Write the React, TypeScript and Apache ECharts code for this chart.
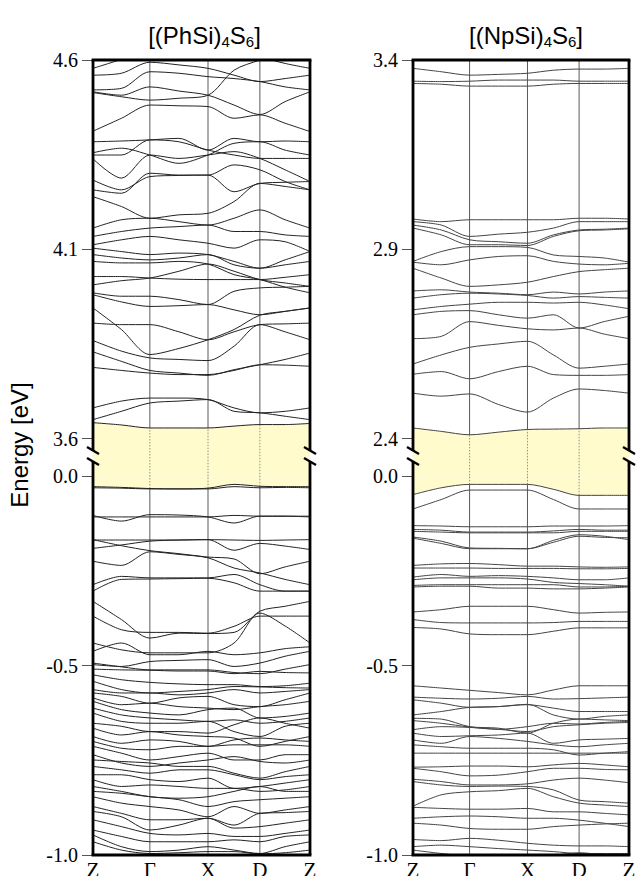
import React, { useEffect, useRef } from "react";
import * as echarts from "echarts";

// k-path (fractional distance along Z-Γ-X-D-Z)
const kLabels = ["Z", "Γ", "X", "D", "Z"];
const kTicks = [0, 0.262, 0.53, 0.769, 1];
const kPath = [0, 0.131, 0.262, 0.396, 0.53, 0.65, 0.769, 0.885, 1];

// y tick labels (eV)
const bottomTicks = [-1.0, -0.5, 0.0];
const leftTopTicks = [3.6, 4.1, 4.6];
const rightTopTicks = [2.4, 2.9, 3.4];

const titleNames = ["(PhSi)", "(NpSi)"];

// ---------- [(PhSi)4S6] ----------
const leftCBM = [3.642, 3.636, 3.628, 3.628, 3.628, 3.633, 3.637, 3.637, 3.640];
const leftVBM = [-0.027, -0.029, -0.032, -0.033, -0.031, -0.021, -0.026, -0.027, -0.027];

const leftConduction = [
  [4.578, 4.602, 4.631, 4.639, 4.639, 4.635, 4.609, 4.591, 4.578],
  [4.560, 4.565, 4.594, 4.587, 4.578, 4.560, 4.543, 4.551, 4.560],
  [4.521, 4.525, 4.569, 4.565, 4.556, 4.551, 4.543, 4.529, 4.521],
  [4.516, 4.507, 4.529, 4.518, 4.507, 4.481, 4.456, 4.490, 4.516],
  [4.514, 4.503, 4.494, 4.499, 4.507, 4.573, 4.600, 4.622, 4.631],
  [4.412, 4.446, 4.481, 4.479, 4.477, 4.446, 4.455, 4.433, 4.411],
  [4.384, 4.386, 4.389, 4.393, 4.362, 4.393, 4.384, 4.386, 4.384],
  [4.355, 4.367, 4.349, 4.327, 4.349, 4.380, 4.384, 4.362, 4.349],
  [4.349, 4.349, 4.389, 4.384, 4.362, 4.349, 4.340, 4.340, 4.340],
  [4.339, 4.288, 4.349, 4.340, 4.349, 4.358, 4.340, 4.310, 4.279],
  [4.283, 4.257, 4.292, 4.295, 4.296, 4.252, 4.274, 4.277, 4.279],
  [4.257, 4.248, 4.301, 4.296, 4.296, 4.323, 4.310, 4.279, 4.257],
  [4.239, 4.213, 4.182, 4.191, 4.195, 4.226, 4.274, 4.266, 4.257],
  [4.156, 4.178, 4.182, 4.173, 4.164, 4.182, 4.204, 4.178, 4.156],
  [4.134, 4.147, 4.156, 4.160, 4.164, 4.147, 4.147, 4.138, 4.134],
  [4.112, 4.125, 4.134, 4.125, 4.116, 4.103, 4.125, 4.120, 4.094],
  [4.103, 4.094, 4.086, 4.090, 4.086, 4.068, 4.050, 4.072, 4.094],
  [4.086, 4.077, 4.072, 4.077, 4.086, 4.059, 4.050, 4.059, 4.068],
  [4.068, 4.064, 4.064, 4.068, 4.061, 4.033, 4.020, 4.000, 3.985],
  [4.028, 4.028, 4.024, 4.021, 4.020, 4.020, 4.020, 4.026, 4.033],
  [4.006, 4.017, 4.024, 4.042, 4.061, 4.042, 4.020, 4.011, 4.002],
  [3.985, 3.976, 3.976, 3.967, 3.954, 3.989, 3.998, 4.000, 4.002],
  [3.980, 3.961, 3.949, 3.951, 3.954, 3.940, 3.927, 3.936, 3.945],
  [3.905, 3.901, 3.901, 3.882, 3.861, 3.882, 3.901, 3.903, 3.905],
  [3.945, 3.888, 3.822, 3.838, 3.861, 3.888, 3.926, 3.936, 3.945],
  [3.859, 3.831, 3.813, 3.809, 3.806, 3.844, 3.901, 3.882, 3.861],
  [3.829, 3.804, 3.780, 3.773, 3.767, 3.782, 3.795, 3.809, 3.826],
  [3.788, 3.780, 3.773, 3.769, 3.769, 3.780, 3.795, 3.794, 3.791],
  [3.681, 3.699, 3.707, 3.707, 3.703, 3.681, 3.668, 3.672, 3.681],
  [3.650, 3.672, 3.694, 3.699, 3.703, 3.672, 3.668, 3.659, 3.650],
];

const leftValence = [
  [-0.030, -0.031, -0.033, -0.033, -0.033, -0.027, -0.030, -0.029, -0.030],
  [-0.103, -0.118, -0.101, -0.102, -0.107, -0.123, -0.105, -0.105, -0.105],
  [-0.107, -0.107, -0.107, -0.107, -0.107, -0.103, -0.105, -0.105, -0.107],
  [-0.167, -0.183, -0.196, -0.204, -0.213, -0.218, -0.257, -0.239, -0.224],
  [-0.190, -0.181, -0.171, -0.168, -0.167, -0.195, -0.177, -0.184, -0.193],
  [-0.168, -0.168, -0.168, -0.168, -0.167, -0.168, -0.169, -0.168, -0.167],
  [-0.224, -0.235, -0.199, -0.206, -0.215, -0.242, -0.255, -0.272, -0.286],
  [-0.286, -0.264, -0.268, -0.268, -0.268, -0.259, -0.286, -0.303, -0.303],
  [-0.303, -0.272, -0.271, -0.270, -0.269, -0.281, -0.303, -0.303, -0.303],
  [-0.330, -0.378, -0.427, -0.414, -0.415, -0.412, -0.356, -0.343, -0.330],
  [-0.369, -0.405, -0.412, -0.412, -0.414, -0.396, -0.369, -0.369, -0.369],
  [-0.440, -0.458, -0.466, -0.466, -0.466, -0.440, -0.361, -0.395, -0.440],
  [-0.462, -0.440, -0.471, -0.471, -0.462, -0.471, -0.466, -0.455, -0.450],
  [-0.497, -0.502, -0.489, -0.486, -0.484, -0.502, -0.493, -0.475, -0.462],
  [-0.493, -0.503, -0.511, -0.511, -0.511, -0.518, -0.521, -0.509, -0.497],
  [-0.509, -0.511, -0.512, -0.514, -0.514, -0.521, -0.515, -0.518, -0.519],
  [-0.524, -0.537, -0.544, -0.548, -0.550, -0.550, -0.555, -0.553, -0.546],
  [-0.541, -0.563, -0.572, -0.568, -0.563, -0.555, -0.556, -0.558, -0.559],
  [-0.563, -0.572, -0.572, -0.577, -0.572, -0.563, -0.572, -0.568, -0.563],
  [-0.572, -0.581, -0.599, -0.585, -0.581, -0.603, -0.608, -0.590, -0.572],
  [-0.585, -0.603, -0.599, -0.608, -0.612, -0.616, -0.608, -0.603, -0.594],
  [-0.594, -0.616, -0.625, -0.630, -0.616, -0.612, -0.638, -0.634, -0.625],
  [-0.612, -0.630, -0.638, -0.643, -0.647, -0.643, -0.652, -0.647, -0.638],
  [-0.625, -0.647, -0.652, -0.652, -0.647, -0.674, -0.687, -0.660, -0.652],
  [-0.652, -0.660, -0.674, -0.674, -0.678, -0.656, -0.638, -0.652, -0.665],
  [-0.665, -0.683, -0.674, -0.683, -0.687, -0.691, -0.713, -0.700, -0.687],
  [-0.687, -0.705, -0.696, -0.700, -0.713, -0.696, -0.691, -0.696, -0.700],
  [-0.700, -0.718, -0.722, -0.713, -0.713, -0.709, -0.709, -0.709, -0.713],
  [-0.713, -0.731, -0.749, -0.740, -0.731, -0.749, -0.749, -0.735, -0.735],
  [-0.735, -0.757, -0.766, -0.757, -0.749, -0.740, -0.753, -0.757, -0.749],
  [-0.749, -0.753, -0.757, -0.766, -0.766, -0.784, -0.797, -0.780, -0.766],
  [-0.766, -0.775, -0.784, -0.775, -0.775, -0.788, -0.801, -0.793, -0.788],
  [-0.788, -0.788, -0.801, -0.806, -0.797, -0.824, -0.819, -0.810, -0.801],
  [-0.801, -0.819, -0.815, -0.819, -0.824, -0.824, -0.832, -0.828, -0.819],
  [-0.819, -0.832, -0.846, -0.850, -0.846, -0.832, -0.819, -0.832, -0.832],
  [-0.832, -0.837, -0.846, -0.854, -0.872, -0.859, -0.854, -0.850, -0.846],
  [-0.846, -0.863, -0.872, -0.881, -0.899, -0.872, -0.890, -0.881, -0.872],
  [-0.872, -0.890, -0.907, -0.907, -0.903, -0.921, -0.890, -0.888, -0.885],
  [-0.885, -0.899, -0.934, -0.921, -0.903, -0.929, -0.925, -0.916, -0.907],
  [-0.907, -0.925, -0.943, -0.947, -0.943, -0.951, -0.951, -0.943, -0.934],
  [-0.934, -0.951, -0.965, -0.965, -0.965, -0.960, -0.965, -0.951, -0.947],
  [-0.947, -0.978, -0.991, -0.987, -0.978, -0.987, -0.996, -0.978, -0.965],
  [-0.965, -0.987, -0.996, -0.994, -0.991, -0.991, -0.997, -0.994, -0.987],
];

// ---------- [(NpSi)4S6] ----------
const rightCBM = [2.428, 2.419, 2.410, 2.417, 2.424, 2.425, 2.426, 2.428, 2.428];
const rightVBM = [-0.048, -0.030, -0.021, -0.021, -0.021, -0.034, -0.050, -0.050, -0.050];

const rightConduction = [
  [3.378, 3.369, 3.360, 3.362, 3.365, 3.373, 3.376, 3.376, 3.378],
  [3.344, 3.343, 3.344, 3.347, 3.347, 3.347, 3.344, 3.344, 3.344],
  [3.338, 3.336, 3.331, 3.331, 3.331, 3.336, 3.338, 3.338, 3.338],
  [2.980, 2.973, 2.978, 2.978, 2.978, 2.978, 2.982, 2.982, 2.980],
  [2.973, 2.964, 2.934, 2.940, 2.945, 2.956, 2.973, 2.973, 2.973],
  [2.964, 2.951, 2.925, 2.920, 2.916, 2.938, 2.951, 2.953, 2.956],
  [2.956, 2.938, 2.912, 2.912, 2.910, 2.934, 2.949, 2.951, 2.954],
  [2.868, 2.894, 2.907, 2.907, 2.905, 2.885, 2.881, 2.877, 2.866],
  [2.866, 2.859, 2.872, 2.881, 2.883, 2.868, 2.861, 2.859, 2.863],
  [2.850, 2.824, 2.802, 2.806, 2.813, 2.828, 2.841, 2.846, 2.850],
  [2.790, 2.793, 2.787, 2.784, 2.780, 2.787, 2.782, 2.787, 2.790],
  [2.771, 2.780, 2.784, 2.782, 2.778, 2.771, 2.775, 2.773, 2.771],
  [2.740, 2.749, 2.755, 2.760, 2.760, 2.758, 2.760, 2.753, 2.743],
  [2.727, 2.736, 2.738, 2.727, 2.718, 2.727, 2.692, 2.709, 2.723],
  [2.664, 2.670, 2.709, 2.699, 2.690, 2.687, 2.692, 2.676, 2.664],
  [2.597, 2.621, 2.641, 2.650, 2.657, 2.621, 2.586, 2.591, 2.597],
  [2.570, 2.577, 2.558, 2.577, 2.591, 2.569, 2.567, 2.567, 2.569],
  [2.520, 2.512, 2.518, 2.490, 2.470, 2.507, 2.531, 2.527, 2.520],
];

const rightValence = [
  [-0.086, -0.061, -0.036, -0.036, -0.036, -0.061, -0.086, -0.086, -0.086],
  [-0.130, -0.131, -0.133, -0.133, -0.133, -0.131, -0.131, -0.131, -0.130],
  [-0.140, -0.142, -0.147, -0.147, -0.147, -0.144, -0.140, -0.142, -0.142],
  [-0.145, -0.147, -0.149, -0.149, -0.149, -0.149, -0.145, -0.145, -0.145],
  [-0.160, -0.171, -0.189, -0.190, -0.191, -0.174, -0.158, -0.161, -0.162],
  [-0.163, -0.177, -0.191, -0.191, -0.191, -0.169, -0.154, -0.158, -0.167],
  [-0.235, -0.231, -0.230, -0.233, -0.237, -0.237, -0.239, -0.240, -0.239],
  [-0.242, -0.242, -0.242, -0.243, -0.243, -0.243, -0.244, -0.244, -0.243],
  [-0.266, -0.259, -0.264, -0.262, -0.264, -0.268, -0.273, -0.273, -0.268],
  [-0.273, -0.268, -0.268, -0.268, -0.271, -0.280, -0.283, -0.286, -0.290],
  [-0.288, -0.286, -0.286, -0.286, -0.286, -0.286, -0.292, -0.292, -0.290],
  [-0.292, -0.290, -0.290, -0.295, -0.295, -0.297, -0.297, -0.295, -0.292],
  [-0.358, -0.352, -0.343, -0.343, -0.343, -0.352, -0.361, -0.359, -0.358],
  [-0.378, -0.386, -0.387, -0.387, -0.387, -0.386, -0.383, -0.383, -0.383],
  [-0.399, -0.403, -0.416, -0.418, -0.418, -0.409, -0.400, -0.400, -0.400],
  [-0.553, -0.559, -0.565, -0.571, -0.577, -0.564, -0.553, -0.553, -0.553],
  [-0.583, -0.586, -0.588, -0.586, -0.581, -0.588, -0.587, -0.585, -0.583],
  [-0.590, -0.599, -0.610, -0.608, -0.603, -0.612, -0.621, -0.621, -0.621],
  [-0.630, -0.621, -0.610, -0.608, -0.602, -0.630, -0.641, -0.634, -0.630],
  [-0.639, -0.641, -0.661, -0.665, -0.678, -0.652, -0.641, -0.643, -0.645],
  [-0.645, -0.652, -0.662, -0.668, -0.661, -0.652, -0.654, -0.650, -0.647],
  [-0.669, -0.661, -0.663, -0.668, -0.674, -0.661, -0.656, -0.652, -0.650],
  [-0.678, -0.687, -0.685, -0.683, -0.678, -0.705, -0.696, -0.694, -0.692],
  [-0.696, -0.705, -0.687, -0.692, -0.700, -0.709, -0.714, -0.709, -0.705],
  [-0.709, -0.714, -0.718, -0.718, -0.718, -0.722, -0.736, -0.731, -0.727],
  [-0.731, -0.731, -0.731, -0.731, -0.731, -0.731, -0.731, -0.731, -0.731],
  [-0.768, -0.767, -0.765, -0.765, -0.767, -0.762, -0.758, -0.762, -0.767],
  [-0.771, -0.780, -0.791, -0.789, -0.780, -0.771, -0.771, -0.774, -0.775],
  [-0.800, -0.806, -0.815, -0.815, -0.812, -0.802, -0.797, -0.802, -0.809],
  [-0.806, -0.815, -0.819, -0.818, -0.819, -0.828, -0.855, -0.859, -0.863],
  [-0.871, -0.841, -0.833, -0.830, -0.824, -0.846, -0.863, -0.868, -0.872],
  [-0.874, -0.877, -0.879, -0.879, -0.877, -0.886, -0.886, -0.890, -0.894],
  [-0.903, -0.899, -0.897, -0.899, -0.903, -0.903, -0.908, -0.916, -0.925],
  [-0.916, -0.921, -0.930, -0.932, -0.932, -0.925, -0.921, -0.918, -0.916],
  [-0.959, -0.962, -0.956, -0.961, -0.969, -0.974, -0.976, -0.976, -0.978],
  [-0.978, -0.974, -0.978, -0.983, -0.987, -0.991, -0.996, -0.996, -0.996],
  [-0.987, -0.996, -1.003, -1.000, -1.000, -1.000, -0.994, -1.000, -1.005],
];

// ---------- layout / style ----------
const GAP = 0.1; // displayed height of the axis break (in display units)
const Y_MIN = -1.0;
const Y_MAX = 1.1;
const GRID_TOP = 60;
const GRID_H = 795;
const PANEL_LEFT = [93, 413];
const PANEL_W = [217, 216];
const YELLOW = "#fffbcc";
const SERIF = "'Liberation Serif', 'Times New Roman', serif";
const SANS = "'Liberation Sans', Arial, sans-serif";

const panels = [
  { cond: leftConduction, val: leftValence, cbm: leftCBM, vbm: leftVBM, topTicks: leftTopTicks, line: "#222", title: titleNames[0], titleDx: 3 },
  { cond: rightConduction, val: rightValence, cbm: rightCBM, vbm: rightVBM, topTicks: rightTopTicks, line: "#444", title: titleNames[1], titleDx: 5 },
];

const r3 = (v: number) => Math.round(v * 1000) / 1000;

function buildOption() {
  const grid: any[] = [];
  const xAxis: any[] = [];
  const yAxis: any[] = [];
  const series: any[] = [];
  const graphic: any[] = [];

  panels.forEach((p, pi) => {
    const shift = p.topTicks[0] - GAP;
    const disp = (arr: number[], top: boolean) =>
      kPath.map((k, i) => [k, r3(top ? arr[i] - shift : arr[i])]);

    grid.push({
      left: PANEL_LEFT[pi],
      top: GRID_TOP,
      width: PANEL_W[pi],
      height: GRID_H,
      show: false,
      containLabel: false,
      outerBoundsMode: "none",
    });

    xAxis.push({
      gridIndex: pi,
      type: "value",
      min: 0,
      max: 1,
      axisLine: { show: false },
      axisTick: { show: false },
      splitLine: { show: false },
      axisLabel: {
        customValues: kTicks,
        formatter: (v: number) => {
          let best = 0;
          kTicks.forEach((t, i) => {
            if (Math.abs(t - v) < Math.abs(kTicks[best] - v)) best = i;
          });
          return kLabels[best];
        },
        fontFamily: SERIF,
        fontSize: 21,
        color: "#000",
        margin: 4,
      },
    });

    const tickVals = [...bottomTicks, ...p.topTicks.map((t) => r3(t - shift))];
    yAxis.push({
      gridIndex: pi,
      type: "value",
      min: Y_MIN,
      max: Y_MAX,
      axisLine: { show: false },
      splitLine: { show: false },
      axisTick: {
        show: true,
        length: 11,
        customValues: tickVals,
        lineStyle: { color: "#555", width: 1 },
      },
      axisLabel: {
        customValues: tickVals,
        formatter: (v: number) => (v > GAP / 2 ? (v + shift).toFixed(1) : v.toFixed(1)),
        fontFamily: SERIF,
        fontSize: 20,
        color: "#000",
        margin: 15,
      },
    });

    const cbmD = disp(p.cbm, true);
    const vbmD = disp(p.vbm, false);

    // vertical high-symmetry lines
    series.push({
      type: "custom",
      xAxisIndex: pi,
      yAxisIndex: pi,
      silent: true,
      clip: false,
      z: 1,
      encode: { x: 0, y: 1 },
      data: kTicks.slice(1, 4).map((k) => [k, 0]),
      renderItem: (_params: any, api: any) => {
        const x = api.value(0);
        const a = api.coord([x, Y_MAX]);
        const b = api.coord([x, Y_MIN]);
        return {
          type: "line",
          shape: { x1: a[0], y1: a[1], x2: b[0], y2: b[1] },
          style: { stroke: "#5a5a5a", lineWidth: 1 },
        };
      },
    });

    // yellow gap fill (VBM up to 0, CBM down to 0)
    [vbmD, cbmD].forEach((d) => {
      series.push({
        type: "line",
        xAxisIndex: pi,
        yAxisIndex: pi,
        data: d,
        showSymbol: false,
        smooth: 0.3,
        silent: true,
        z: 2,
        lineStyle: { width: 0, opacity: 0 },
        areaStyle: { color: YELLOW, opacity: 1 },
      });
    });

    // dotted high-symmetry lines inside the gap
    series.push({
      type: "custom",
      xAxisIndex: pi,
      yAxisIndex: pi,
      silent: true,
      clip: false,
      z: 3,
      encode: { x: 0, y: [1, 2] },
      data: [2, 4, 6].map((i) => [kPath[i], vbmD[i][1], cbmD[i][1]]),
      renderItem: (_params: any, api: any) => {
        const x = api.value(0);
        const a = api.coord([x, api.value(1)]);
        const b = api.coord([x, api.value(2)]);
        return {
          type: "line",
          shape: { x1: a[0], y1: a[1], x2: b[0], y2: b[1] },
          style: { stroke: "#777", lineWidth: 0.8, lineDash: [1.5, 1.5] },
        };
      },
    });

    const bandLine = (d: number[][]) => ({
      type: "line",
      xAxisIndex: pi,
      yAxisIndex: pi,
      data: d,
      showSymbol: false,
      smooth: 0.3,
      silent: true,
      z: 4,
      lineStyle: { color: p.line, width: 1 },
    });

    series.push(bandLine(cbmD));
    series.push(bandLine(vbmD));
    p.cond.forEach((b) => series.push(bandLine(disp(b, true))));
    p.val.forEach((b) => series.push(bandLine(disp(b, false))));

    // frame with axis break
    const L = PANEL_LEFT[pi];
    const R = L + PANEL_W[pi];
    const T = GRID_TOP;
    const B = GRID_TOP + GRID_H;
    const yOf = (v: number) => GRID_TOP + ((Y_MAX - v) / (Y_MAX - Y_MIN)) * GRID_H;
    const brUp = yOf(GAP) + 12;
    const brLow = yOf(0) - 15;
    const frameStyle = { stroke: "#000", lineWidth: 2.8, lineCap: "square" };
    const seg = (x1: number, y1: number, x2: number, y2: number, style: any) => ({
      type: "line",
      z: 100,
      silent: true,
      shape: { x1, y1, x2, y2 },
      style,
    });
    graphic.push(seg(L, T, R, T, frameStyle));
    graphic.push(seg(L, B, R, B, frameStyle));
    [L, R].forEach((x) => {
      graphic.push(seg(x, T, x, brUp, { ...frameStyle, lineCap: "butt" }));
      graphic.push(seg(x, brLow, x, B, { ...frameStyle, lineCap: "butt" }));
      [brUp, brLow].forEach((y) => {
        graphic.push(seg(x - 6, y - 3.5, x + 6, y + 3.5, { stroke: "#000", lineWidth: 2.4 }));
      });
    });

    // panel title
    graphic.push({
      type: "text",
      z: 100,
      silent: true,
      x: (L + R) / 2 + p.titleDx,
      y: 35,
      style: {
        text: `{n|[${p.title}}{s|4}{n|S}{s|6}{n|]}`,
        align: "center",
        verticalAlign: "middle",
        rich: {
          n: { fontSize: 24, fontFamily: SANS, fill: "#000", lineHeight: 28, verticalAlign: "middle" },
          s: { fontSize: 15, fontFamily: SANS, fill: "#000", lineHeight: 11, verticalAlign: "bottom" },
        },
      },
    });
  });

  graphic.push({
    type: "text",
    z: 100,
    silent: true,
    x: 19,
    y: 445,
    rotation: Math.PI / 2,
    style: {
      text: "Energy [eV]",
      fontSize: 24,
      fontFamily: SANS,
      fill: "#000",
      align: "center",
      verticalAlign: "middle",
    },
  });

  return { animation: false, backgroundColor: "#fff", grid, xAxis, yAxis, series, graphic };
}

export default function App() {
  const ref = useRef<HTMLDivElement>(null);
  useEffect(() => {
    if (!ref.current) return;
    const chart = echarts.init(ref.current, null, { renderer: "svg" });
    chart.setOption(buildOption() as any);
    return () => chart.dispose();
  }, []);
  return (
    <div
      ref={ref}
      style={{ position: "fixed", left: 0, top: 0, width: 638, height: 876, background: "#fff" }}
    />
  );
}
